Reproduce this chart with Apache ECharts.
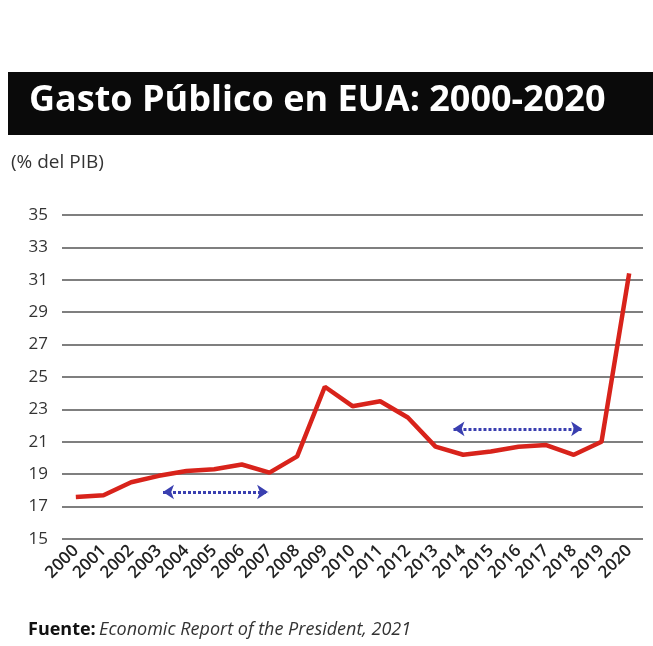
<!DOCTYPE html>
<html>
<head>
<meta charset="utf-8">
<script src="https://cdn.jsdelivr.net/npm/echarts@6/dist/echarts.min.js"></script>
<style>
  html, body { margin: 0; padding: 0; background: #fff; }
  #chart { width: 653px; height: 646px; }
</style>
</head>
<body>
<div id="chart"></div>
<script>
var years = ['2000','2001','2002','2003','2004','2005','2006','2007','2008','2009','2010',
             '2011','2012','2013','2014','2015','2016','2017','2018','2019','2020'];
var gasto = [17.6, 17.7, 18.5, 18.9, 19.2, 19.3, 19.6, 19.1, 20.1, 24.4, 23.2,
             23.5, 22.5, 20.7, 20.2, 20.4, 20.7, 20.8, 20.2, 21.0, 31.4];
var yTicks = [15, 35, 2];
// arrows: [start index, end index, level]
var arrowLeft = [3.15, 6.95, 17.9];
var arrowRight = [13.65, 18.3, 21.8];

var chart = echarts.init(document.getElementById('chart'));

var option = {
    backgroundColor: '#fff',
    animation: false,
    graphic: [
        { type: 'rect', shape: { x: 8, y: 72, width: 645, height: 63 }, style: { fill: '#0a0a0a' } },
        { type: 'text', left: 29, top: 83,
          style: { text: 'Gasto Público en EUA: 2000-2020', fill: '#fff',
                   font: 'bold 36px "Open Sans", sans-serif' } },
        { type: 'text', left: 11, top: 153,
          style: { text: '(% del PIB)', fill: '#333', font: '19px "Open Sans", sans-serif' } },
        { type: 'text', left: 28, top: 621,
          style: { rich: {
                b: { fontFamily: 'Open Sans', fontWeight: 'bold', fontSize: 18, fill: '#111' },
                i: { fontFamily: 'Open Sans', fontStyle: 'italic', fontSize: 18, fill: '#333' }
            }, text: '{b|Fuente:} {i|Economic Report of the President, 2021}' } }
    ],
    grid: { left: 62, right: 10, top: 215, bottom: 107 },
    xAxis: [{
        type: 'category',
        data: years,
        boundaryGap: true,
        axisLine: { show: false },
        axisTick: { show: false },
        axisLabel: { rotate: 45, color: '#222', fontSize: 17, fontWeight: 600,
                     fontFamily: 'Open Sans', margin: 9, interval: 0 }
    }, {
        type: 'value', min: -0.5, max: 20.5, show: false
    }],
    yAxis: {
        type: 'value',
        min: yTicks[0], max: yTicks[1], interval: yTicks[2],
        axisLine: { show: false },
        axisTick: { show: false },
        axisLabel: { color: '#333', fontSize: 17, fontFamily: 'Open Sans', margin: 14 },
        splitLine: { lineStyle: { color: '#555', width: 1.5 } }
    },
    series: [{
        type: 'line',
        data: gasto,
        symbol: 'none',
        lineStyle: { color: '#d8231b', width: 4.5 },
        z: 5
    }, {
        type: 'lines',
        coordinateSystem: 'cartesian2d',
        xAxisIndex: 1,
        symbol: ['arrow', 'arrow'],
        symbolSize: 11,
        lineStyle: { color: '#3a3fb0', width: 3, type: [3, 2], opacity: 1 },
        data: [
            { coords: [[arrowLeft[0], arrowLeft[2]], [arrowLeft[1], arrowLeft[2]]] },
            { coords: [[arrowRight[0], arrowRight[2]], [arrowRight[1], arrowRight[2]]] }
        ]
    }]
};

chart.setOption(option);
</script>
</body>
</html>
